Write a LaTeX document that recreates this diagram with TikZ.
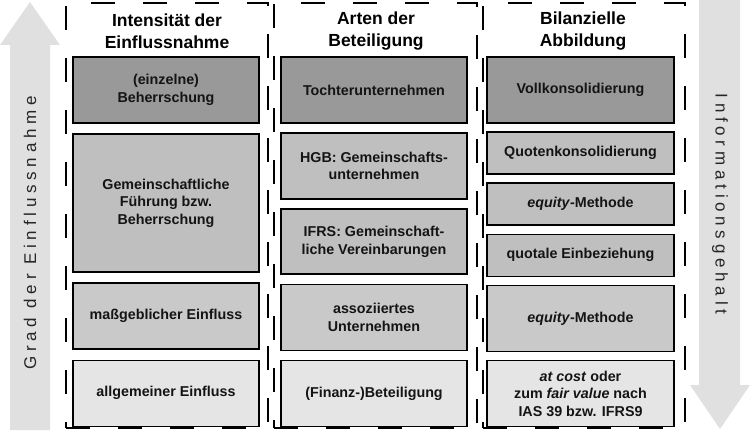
\documentclass[tikz,border=0pt]{standalone}
\usepackage{fontspec}
\setmainfont{Liberation Sans}
\newfontfamily\spacedfont[LetterSpace=28]{Liberation Sans}
\usetikzlibrary{positioning}

\begin{document}
\begin{tikzpicture}[
  x=1pt, y=1pt,
  box/.style={draw, line width=1.6pt, align=center, minimum width=186pt, minimum height=66pt, inner sep=2pt, font=\fontsize{14.3}{17.5}\selectfont\bfseries, text=black!92},
  frame/.style={draw, line width=2.4pt, dash pattern=on 24pt off 28pt, minimum width=202pt, minimum height=425pt, inner sep=0pt},
  head/.style={align=center, font=\fontsize{17.5}{22}\selectfont\bfseries},
  side/.style={font=\fontsize{17}{19}\spacedfont, text=black!85},
  level1/.style={fill=black!40},
  level2/.style={fill=black!25},
  level3/.style={fill=black!21},
  level4/.style={fill=black!10},
  small/.style={minimum height=42pt}
]
  \useasboundingbox (0,0) rectangle (750,-433);

  % side arrows
  \fill[black!12] (10,-430) -- (10,-45) -- (0,-45) -- (30,-2) -- (60,-45) -- (50,-45) -- (50,-430) -- cycle;
  \fill[black!12] (699,0) -- (740,0) -- (740,-385) -- (750,-385) -- (720,-429) -- (690,-385) -- (699,-385) -- cycle;
  \node[side, rotate=90] (grad) at (30,-233) {Grad der Einflussnahme};
  \node[side, rotate=-90] (info) at (720,-204) {Informationsgehalt};

  % dashed columns
  \node[frame] (f1) at (167,-215.5) {};
  \node[frame, minimum width=203pt] (f2) at (375.5,-215.5) {};
  \node[frame] (f3) at (584,-215.5) {};
  \node[head] (h1) at (167,-31) {Intensität der\\Einflussnahme};
  \node[head] (h2) at (376,-31) {Arten der\\Beteiligung};
  \node[head] (h3) at (583,-31) {Bilanzielle\\Abbildung};

  % Intensitaet
  \node[box, level1] (b11) at (166,-90) {(einzelne)\\Beherrschung};
  \node[box, level2, minimum height=138pt, below=9.5pt of b11] (b12) {Gemeinschaftliche\\Führung bzw.\\Beherrschung};
  \node[box, level3, below=9.5pt of b12] (b13) {maßgeblicher Einfluss};
  \node[box, level4, below=9.5pt of b13] (b14) {allgemeiner Einfluss};

  % Beteiligung
  \node[box, level1] (b21) at (374,-90) {Tochterunternehmen};
  \node[box, level2, below=8.5pt of b21] (b22) {HGB: Gemeinschafts-\\unternehmen};
  \node[box, level2, minimum height=65pt, below=8.5pt of b22] (b23) {IFRS: Gemeinschaft-\\liche Vereinbarungen};
  \node[box, level3, below=8.5pt of b23] (b24) {assoziiertes\\Unternehmen};
  \node[box, level4, below=8.5pt of b24] (b25) {(Finanz-)Beteiligung};

  % Abbildung
  \node[box, level1, minimum width=187pt] (b31) at (580.5,-90) {Vollkonsolidierung};
  \node[box, level2, small, minimum width=187pt, below=7.5pt of b31] (b32) {Quotenkonsolidierung};
  \node[box, level2, small, minimum width=187pt, below=7.5pt of b32] (b33) {\textit{equity}-Methode};
  \node[box, level2, small, minimum width=187pt, below=7.5pt of b33] (b34) {quotale Einbeziehung};
  \node[box, level3, minimum width=187pt, below=7.5pt of b34] (b35) {\textit{equity}-Methode};
  \node[box, level4, minimum width=187pt, below=7.5pt of b35] (b36) {\textit{at cost} oder\\zum \textit{fair value} nach\\IAS 39 bzw. IFRS9};
\end{tikzpicture}
\end{document}
